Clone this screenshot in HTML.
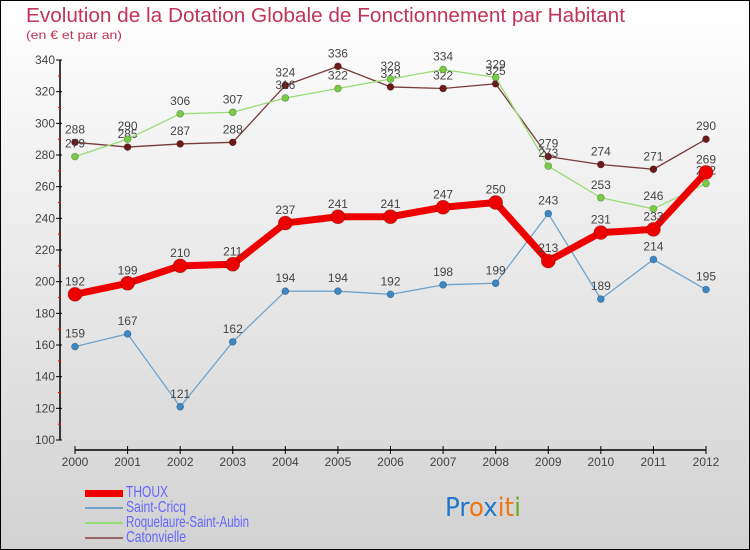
<!DOCTYPE html>
<html><head><meta charset="utf-8"><style>
body{margin:0;}
svg{display:block;font-family:"Liberation Sans",sans-serif;}
</style></head><body>
<svg width="750" height="550" viewBox="0 0 750 550">
<defs><linearGradient id="bg" x1="0" y1="0" x2="0" y2="1"><stop offset="0" stop-color="#ffffff"/><stop offset="1" stop-color="#d2d2d2"/></linearGradient></defs>
<rect x="0.5" y="0.5" width="749" height="549" fill="url(#bg)" stroke="#000"/>
<text x="26" y="22" font-size="20" fill="#c0335a" textLength="599" lengthAdjust="spacingAndGlyphs">Evolution de la Dotation Globale de Fonctionnement par Habitant</text>
<text x="26" y="39" font-size="12" fill="#c0335a" textLength="96" lengthAdjust="spacingAndGlyphs">(en € et par an)</text>
<g id="axes"></g>
<g id="series"></g>
<g id="legend" font-size="16" fill="#6666ff">
<rect x="85" y="490" width="38" height="7" fill="#e00"/>
<text x="126" y="497" textLength="42" lengthAdjust="spacingAndGlyphs">THOUX</text>
<line x1="85" y1="508" x2="123" y2="508" stroke="#6fa3cc" stroke-width="2"/>
<text x="126" y="512" textLength="60" lengthAdjust="spacingAndGlyphs">Saint-Cricq</text>
<line x1="85" y1="523" x2="123" y2="523" stroke="#99dd77" stroke-width="2"/>
<text x="126" y="527" textLength="123" lengthAdjust="spacingAndGlyphs">Roquelaure-Saint-Aubin</text>
<line x1="85" y1="538" x2="123" y2="538" stroke="#996666" stroke-width="2"/>
<text x="126" y="542" textLength="60" lengthAdjust="spacingAndGlyphs">Catonvielle</text>
</g>
<g font-size="26" font-family="'DejaVu Sans',sans-serif">
<text x="445" y="516" textLength="76" lengthAdjust="spacingAndGlyphs"><tspan fill="#2277cc">Pr</tspan><tspan fill="#ee7711">o</tspan><tspan fill="#2277cc">x</tspan><tspan fill="#ee7711">i</tspan><tspan fill="#ee7711">t</tspan><tspan fill="#66aa22">i</tspan></text>
</g>
</svg>
<script>
const years=["2000","2001","2002","2003","2004","2005","2006","2007","2008","2009","2010","2011","2012"];
const yTicks=[100,120,140,160,180,200,220,240,260,280,300,320,340];
const thoux=[192,199,210,211,237,241,241,247,250,213,231,233,269];
const saintCricq=[159,167,121,162,194,194,192,198,199,243,189,214,195];
const roquelaure=[279,290,306,307,316,322,328,334,329,273,253,246,262];
const catonvielle=[288,285,287,288,324,336,323,322,325,279,274,271,290];
const NS="http://www.w3.org/2000/svg";
const xS=i=>75+i*(706-75)/12;
const yS=v=>440-(v-100)*(380/240);
function mk(tag,attrs,parent){const e=document.createElementNS(NS,tag);for(const k in attrs)e.setAttribute(k,attrs[k]);parent.appendChild(e);return e;}
const ax=document.getElementById('axes');
let l=mk('line',{x1:60,y1:60,x2:60,y2:440,stroke:'#000','stroke-width':1.5},ax);


yTicks.forEach(v=>{const y=yS(v);
 mk('line',{x1:56,y1:y,x2:62,y2:y,stroke:'#000'},ax);
 if(v<340)mk('line',{x1:58,y1:y-15.8,x2:61,y2:y-15.8,stroke:'#f00'},ax);
 const t=mk('text',{x:55,y:y+4,'text-anchor':'end','font-size':12,fill:'#444'},ax);t.textContent=v;
 
 
});
l=mk('line',{x1:75,y1:450,x2:706,y2:450,stroke:'#000','stroke-width':1.5},ax);


years.forEach((yr,i)=>{const x=xS(i);
 mk('line',{x1:x,y1:446,x2:x,y2:454,stroke:'#000'},ax);
 const t=mk('text',{x:x,y:466,'text-anchor':'middle','font-size':12,fill:'#444'},ax);t.textContent=yr;
 
 
});
const sg=document.getElementById('series');
function draw(data,name,color,fill,w,r){
 const g=mk('g',{},sg);
 
 
 const p=mk('polyline',{points:data.map((v,i)=>xS(i)+','+yS(v)).join(' '),fill:'none',stroke:color,'stroke-width':w,'stroke-linejoin':'round'},g);
 
 
 data.forEach((v,i)=>{
  const c=mk('circle',{cx:xS(i),cy:yS(v),r:r,fill:fill,stroke:'rgba(0,0,0,0.3)','stroke-width':0.7},g);
  
  
  const t=mk('text',{x:xS(i),y:yS(v)-9,'text-anchor':'middle','font-size':12,fill:'#444'},g);t.textContent=v;
  
  
 });
}
draw(catonvielle,'catonvielle','#7a3a3a','#6b1a1a',1.3,3.5);
draw(roquelaure,'roquelaure','#99dd77','#77cc44',1.3,3.5);
draw(saintCricq,'saint-cricq','#6fa3cc','#3b88c4',1.3,3.5);
draw(thoux,'thoux','#ee0000','#ee0000',7,7);
</script>
</body></html>
